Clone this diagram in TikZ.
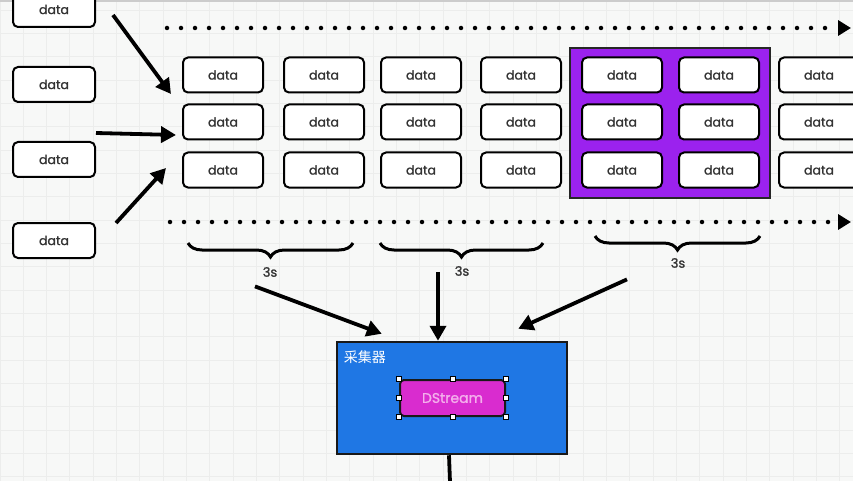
\documentclass[tikz,border=0pt]{standalone}
\usepackage{fontspec}
\setmainfont{Poppins}[FakeBold=1.2]
\newfontfamily\cjk{Noto Sans CJK SC}
\usetikzlibrary{arrows.meta,decorations.pathreplacing,calc,positioning}
\definecolor{paper}{HTML}{F7F8F7}
\definecolor{gridline}{HTML}{ECEDEC}
\definecolor{window}{HTML}{9B22EE}
\definecolor{collect}{HTML}{1F77E4}
\definecolor{stream}{HTML}{D92CCF}
\definecolor{streamtext}{HTML}{F4AEEC}
\definecolor{ink}{HTML}{333333}
\tikzset{
    databox/.style={draw=black,line width=2pt,fill=white,rounded corners=5pt,
        minimum width=80pt,minimum height=35pt,inner sep=0pt,
        font=\fontsize{12.5}{12.5}\selectfont,text=ink},
    flow/.style={line width=3.8pt,-{Triangle[length=15pt,width=16pt]}},
    timeline/.style={line width=4.5pt,line cap=round,dash pattern=on 0pt off 14pt,
        -{Triangle[length=13pt,width=15pt]}},
    window brace/.style={decorate,decoration={brace,mirror,amplitude=14pt},line width=3pt},
    handle/.style={draw=black,fill=white,line width=0.8pt,minimum size=5pt,inner sep=0pt}
}
\begin{document}
\begin{tikzpicture}[x=1pt,y=-1pt]
    \useasboundingbox (0,0) rectangle (853,481);
    \clip (0,0) rectangle (853,481);
    %% Paper and grid
    \fill[paper] (0,0) rectangle (853,481);
    \foreach \i in {0,...,36}
        \draw[gridline,line width=1pt] (\i*23.33,0) -- (\i*23.33,481);
    \foreach \j in {0,...,20}
        \draw[gridline,line width=1pt] (0,10.3+\j*23.33) -- (853,10.3+\j*23.33);
    \fill[black!20] (0,0) rectangle (853,2.5);
    %% Sources
    \node[databox,minimum width=82pt] (src1) at (54,9.5) {data};
    \node[databox,minimum width=82pt] (src2) at (54,84.5) {data};
    \node[databox,minimum width=82pt] (src3) at (54,159.5) {data};
    \node[databox,minimum width=82pt] (src4) at (54,240.5) {data};
    %% Window
    \node[draw=black!85,line width=2pt,fill=window,minimum width=200pt,minimum height=150pt] (win) at (670,123) {};
    %% Stream of data
    \foreach \cx [count=\c] in {223,324,421,521,622,719,819}
        \foreach \ry [count=\r] in {75,122,170}
            \node[databox] (cell\c\r) at (\cx,\ry) {data};
    %% Time lines
    \coordinate (top start) at (167,28);
    \coordinate (top end) at (851,28);
    \coordinate (bottom start) at (170,222);
    \coordinate (bottom end) at (851,222);
    \draw[timeline] (top start) -- (top end);
    \draw[timeline] (bottom start) -- (bottom end);
    %% Inputs
    \draw[flow] ($(src1.east)+(17,5.5)$) -- ($(cell11.south west)+(-11,0.5)$);
    \draw[flow] ($(src3.north east)+(0,-8)$) -- ($(cell12.south west)+(-6,-5.5)$);
    \draw[flow] ($(src4.north east)+(20,1)$) -- ($(cell13.west)+(-16,-2)$);
    %% Batches of 3s
    \draw[window brace] (188,243) -- (353,243);
    \draw[window brace] (380,243) -- (543,243);
    \draw[window brace] (595,236) -- (760,236);
    \node[text=ink,font=\fontsize{13}{13}\selectfont] (lab1) at (270,272) {3s};
    \node[text=ink,font=\fontsize{13}{13}\selectfont] (lab2) at (462,271) {3s};
    \node[text=ink,font=\fontsize{13}{13}\selectfont] (lab3) at (678,263) {3s};
    %% Collector
    \node[draw=black!90,line width=2.5pt,fill=collect,minimum width=230pt,minimum height=112pt] (collector) at (452,398) {};
    \node[anchor=west,text=white,font=\cjk\fontsize{14}{14}\selectfont,inner sep=0pt] (collect label) at ($(collector.north west)+(8,16)$) {采集器};
    \node[draw=black!90,line width=2pt,fill=stream,rounded corners=4pt,minimum width=105pt,minimum height=36pt,
        text=streamtext,font=\fontsize{14}{14}\selectfont] (dstream) at (452.5,398) {DStream};
    \foreach \a in {north west,north,north east,east,south east,south,south west,west}
        \node[handle] at (dstream.\a) {};
    \draw[flow] ($(lab1.south)+(-15,6)$) -- ($(collector.north west)+(46,-7)$);
    \draw[flow] ($(collector.north)+(-14,-69)$) -- ($(collector.north)+(-14,0)$);
    \draw[flow] ($(lab3.south)+(-51,8)$) -- ($(collector.north east)+(-50,-12)$);
    %% Output
    \coordinate (out) at (450,482);
    \draw[line width=3.8pt] (collector.south) ++(-3,0) -- (out);
\end{tikzpicture}
\end{document}
